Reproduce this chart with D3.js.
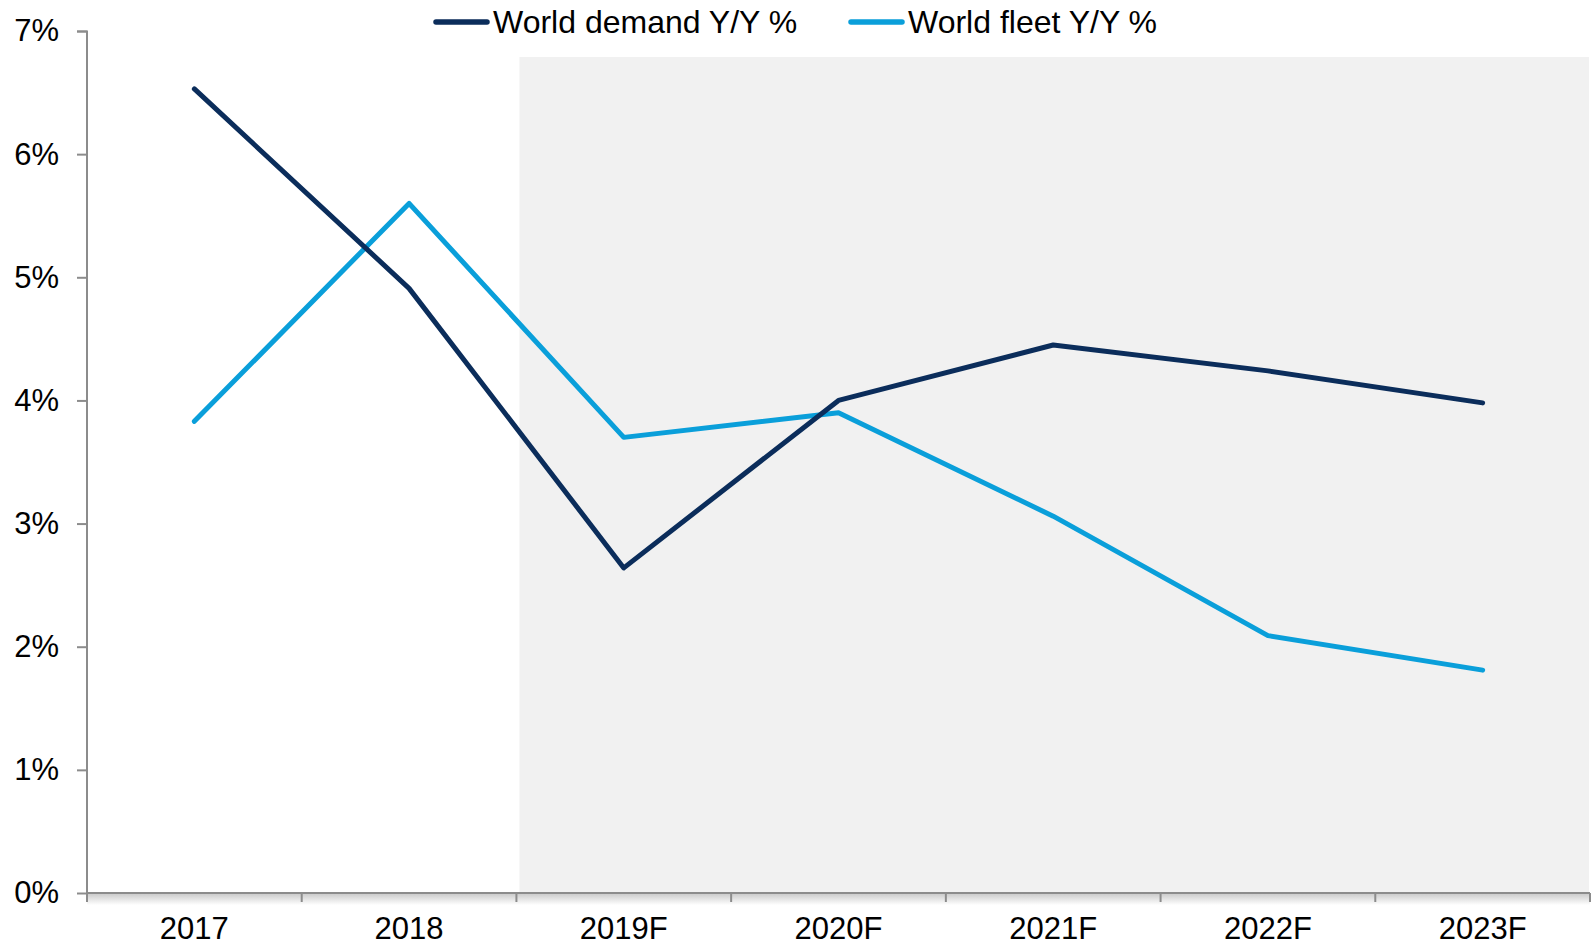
<!DOCTYPE html>
<html>
<head>
<meta charset="utf-8">
<script src="https://cdn.jsdelivr.net/npm/d3@7"></script>
<style>
  body { margin: 0; background: #fff; }
  text { font-family: "Liberation Sans", Arial, sans-serif; fill: #000; }
</style>
</head>
<body>
<script>
// categories and the two series (Y/Y %)
var years = ['2017', '2018', '2019F', '2020F', '2021F', '2022F', '2023F']
var demand = [6.53, 4.91, 2.64, 4.0, 4.45, 4.24, 3.98]
var fleet = [3.83, 5.60, 3.70, 3.90, 3.06, 2.09, 1.81]
var yTicks = [0, 1, 2, 3, 4, 5, 6, 7]
var forecastFrom = '2019F'

var W = 1591, H = 947
var margin = { top: 31, right: 1, bottom: 54, left: 87 }
var w = W - margin.left - margin.right
var h = H - margin.top - margin.bottom

var svg = d3.select('body').append('svg')
    .attr('width', W)
    .attr('height', H)

var defs = svg.append('defs')
var grad = defs.append('linearGradient')
    .attr('id', 'shadow')
    .attr('x1', 0).attr('y1', 0).attr('x2', 0).attr('y2', 1)
grad.append('stop').attr('offset', '0%').attr('stop-color', '#c8c8c8')
grad.append('stop').attr('offset', '100%').attr('stop-color', '#ffffff')

var g = svg.append('g')
    .attr('transform', 'translate(' + margin.left + ',' + margin.top + ')')

var x = d3.scaleBand().domain(years).range([0, w]).padding(0)
var y = d3.scaleLinear().domain([0, 7]).range([h, 0])

// shaded forecast area
g.append('rect')
    .attr('x', x(forecastFrom) + 3)
    .attr('y', 26)
    .attr('width', w - x(forecastFrom) - 4)
    .attr('height', h - 26)
    .attr('fill', '#f1f1f1')

// soft shadow under x axis
g.append('rect')
    .attr('x', 0)
    .attr('y', h)
    .attr('width', w)
    .attr('height', 12)
    .attr('fill', 'url(#shadow)')

// axes
var yAxis = d3.axisLeft(y)
    .tickValues(yTicks)
    .tickFormat(function (d) { return d + '%' })
    .tickSize(10)
    .tickPadding(18)
var yG = g.append('g').attr('class', 'axis').call(yAxis)
yG.select('.domain').attr('stroke', '#8c8c8c').attr('stroke-width', 2)
  .attr('d', 'M-10,0.5H0V' + h)
yG.selectAll('.tick line').attr('stroke', '#8c8c8c').attr('stroke-width', 2)
yG.selectAll('.tick text').attr('font-size', 31).attr('fill', '#000')
  .attr('font-family', '"Liberation Sans", Arial, sans-serif')

var xAxis = d3.axisBottom(x).tickSize(0).tickPadding(24)
var xG = g.append('g').attr('class', 'axis')
    .attr('transform', 'translate(0,' + h + ')')
    .call(xAxis)
xG.select('.domain').attr('stroke', '#8c8c8c').attr('stroke-width', 2)
  .attr('d', 'M0,0H' + w)
xG.selectAll('.tick text').attr('font-size', 31).attr('fill', '#000')
  .attr('font-family', '"Liberation Sans", Arial, sans-serif')
// category boundary ticks
xG.selectAll('.bound')
    .data(years.concat(['end']))
    .enter()
  .append('line')
    .attr('class', 'bound')
    .attr('x1', function (d, i) { return i < years.length ? x(d) : w })
    .attr('x2', function (d, i) { return i < years.length ? x(d) : w })
    .attr('y1', 0)
    .attr('y2', 9)
    .attr('stroke', '#8c8c8c')
    .attr('stroke-width', 2)

// lines
var line = d3.line()
    .x(function (d, i) { return x(years[i]) + x.bandwidth() / 2 })
    .y(function (d) { return y(d) })

var series = [
  { name: 'World demand Y/Y %', values: demand, color: '#0b2d5b' },
  { name: 'World fleet Y/Y %', values: fleet, color: '#0a9fda' }
]

g.selectAll('.series')
    .data(series.slice().reverse())
    .enter()
  .append('path')
    .attr('class', 'series')
    .attr('d', function (d) { return line(d.values) })
    .attr('fill', 'none')
    .attr('stroke', function (d) { return d.color })
    .attr('stroke-width', 5)
    .attr('stroke-linejoin', 'round')
    .attr('stroke-linecap', 'round')

// legend
var legendX = [436, 851]
var legend = svg.selectAll('.legend')
    .data(series)
    .enter()
  .append('g')
    .attr('class', 'legend')
    .attr('transform', function (d, i) { return 'translate(' + legendX[i] + ',22)' })
legend.append('line')
    .attr('x1', 0).attr('x2', 51)
    .attr('y1', 0).attr('y2', 0)
    .attr('stroke', function (d) { return d.color })
    .attr('stroke-width', 5.5)
    .attr('stroke-linecap', 'round')
legend.append('text')
    .attr('x', 57)
    .attr('y', 0)
    .attr('dy', '0.35em')
    .attr('font-size', 32)
    .text(function (d) { return d.name })
</script>
</body>
</html>
